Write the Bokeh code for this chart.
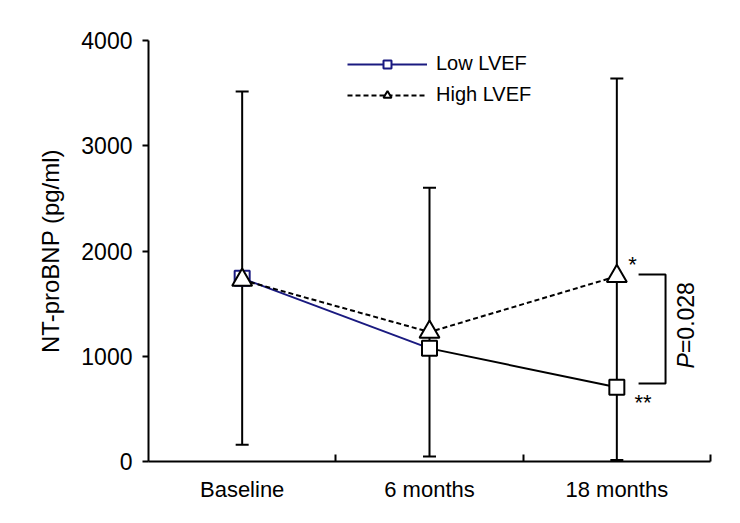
import math
from bokeh.plotting import figure
from bokeh.models import (ColumnDataSource, FixedTicker, Whisker, TeeHead,
                          Legend, LegendItem, Range1d)
from bokeh.core.properties import value
from bokeh.embed import file_html
from bokeh.resources import INLINE

# ---- data ----
categories = ["Baseline", "6 months", "18 months"]
x_pos = [0.5, 1.5, 2.5]
category_edges = [1, 2, 3]
low_lvef = [1740, 1075, 705]
high_lvef = [1725, 1230, 1760]
err_upper = [3515, 2600, 3640]
err_lower = [160, 48, 15]
y_ticks = [0, 1000, 2000, 3000, 4000]

# annotation positions (data units)
bracket_x = [2.616, 2.760]
bracket_y = [1777, 741]
p_text_x = 2.867
p_text_y = [884, 1030]
star_labels = ["*", "**"]
star_x = [2.584, 2.64]
star_y = [1876, 556]

FONT = "Liberation Sans"
NAVY = "#1a1a80"

p = figure(width=732, height=515, output_backend="svg", toolbar_location=None,
           x_range=Range1d(0, 3), y_range=Range1d(0, 4000),
           min_border_left=148, min_border_right=22, min_border_top=40,
           min_border_bottom=54)
p.outline_line_color = None
p.xgrid.visible = False
p.ygrid.visible = False
p.background_fill_color = "white"
p.border_fill_color = "white"

# ---- axes ----
xa = p.xaxis[0]
xa.ticker = FixedTicker(ticks=x_pos, minor_ticks=category_edges)
xa.major_label_overrides = {x: c for x, c in zip(x_pos, categories)}
xa.axis_line_width = 2
xa.axis_line_color = "black"
xa.major_tick_line_color = None
xa.major_tick_in = 0
xa.major_tick_out = 0
xa.minor_tick_line_color = "black"
xa.minor_tick_line_width = 2
xa.minor_tick_in = 7
xa.minor_tick_out = 0
xa.major_label_standoff = 15
xa.major_label_text_font = FONT
xa.major_label_text_font_size = "22px"
xa.major_label_text_color = "black"

ya = p.yaxis[0]
ya.ticker = FixedTicker(ticks=y_ticks)
ya.axis_line_width = 2
ya.axis_line_color = "black"
ya.major_tick_line_color = "black"
ya.major_tick_line_width = 2
ya.major_tick_in = 0
ya.major_tick_out = 6
ya.minor_tick_line_color = None
ya.major_label_standoff = 10
ya.major_label_text_font = FONT
ya.major_label_text_font_size = "23px"
ya.major_label_text_color = "black"
ya.axis_label = "NT-proBNP (pg/ml)"
ya.axis_label_text_font = FONT
ya.axis_label_text_font_size = "24px"
ya.axis_label_text_font_style = "normal"
ya.axis_label_text_color = "black"
ya.axis_label_standoff = 14

# ---- error bars ----
err_src = ColumnDataSource(dict(x=x_pos, upper=err_upper, lower=err_lower))
wh = Whisker(base="x", upper="upper", lower="lower", source=err_src,
             line_color="black", line_width=2, level="underlay",
             upper_head=TeeHead(size=13, line_color="black", line_width=2),
             lower_head=TeeHead(size=13, line_color="black", line_width=2))
p.add_layout(wh)

# ---- lines ----
low_line_a = p.line(x_pos[:2], low_lvef[:2], line_color=NAVY, line_width=2)
low_line_b = p.line(x_pos[1:], low_lvef[1:], line_color="black", line_width=2)
high_line = p.line(x_pos, high_lvef, line_color="black", line_width=2,
                   line_dash="5 3")

# ---- markers ----
low_mark_a = p.scatter(x_pos[:1], low_lvef[:1], marker="square", size=15,
                       fill_color="white", line_color=NAVY, line_width=2)
low_mark_b = p.scatter(x_pos[1:], low_lvef[1:], marker="square", size=15,
                       fill_color="white", line_color="black", line_width=2)
high_mark = p.scatter(x_pos, high_lvef, marker="triangle", size=20,
                      fill_color="white", line_color="black", line_width=2)

# ---- significance bracket ----
p.line([bracket_x[0], bracket_x[1], bracket_x[1], bracket_x[0]],
       [bracket_y[0], bracket_y[0], bracket_y[1], bracket_y[1]],
       line_color="black", line_width=2)
p.text(x=[p_text_x], y=[p_text_y[0]], text=["P"], angle=math.pi / 2,
       text_font=value(FONT), text_font_size="23px", text_font_style="italic",
       text_align="left", text_baseline="middle", text_color="black")
p.text(x=[p_text_x], y=[p_text_y[1]], text=["=0.028"], angle=math.pi / 2,
       text_font=value(FONT), text_font_size="23px",
       text_align="left", text_baseline="middle", text_color="black")
p.text(x=star_x, y=star_y, text=star_labels, text_font=value(FONT),
       text_font_size="22px", text_align="center",
       text_baseline="alphabetic", text_color="black")

# ---- legend ----
legend = Legend(items=[
    LegendItem(label="Low LVEF", renderers=[low_line_a, low_mark_a]),
    LegendItem(label="High LVEF", renderers=[high_line, high_mark]),
], location=(199, 355))
legend.glyph_width = 80
legend.glyph_height = 20
legend.spacing = 8
legend.padding = 0
legend.margin = 0
legend.label_standoff = 9
legend.border_line_color = None
legend.background_fill_alpha = 0
legend.label_text_font = FONT
legend.label_text_font_size = "20px"
legend.label_text_color = "black"
legend.label_height = 20
p.add_layout(legend, "center")

open("out.html", "w").write(file_html(p, INLINE))
